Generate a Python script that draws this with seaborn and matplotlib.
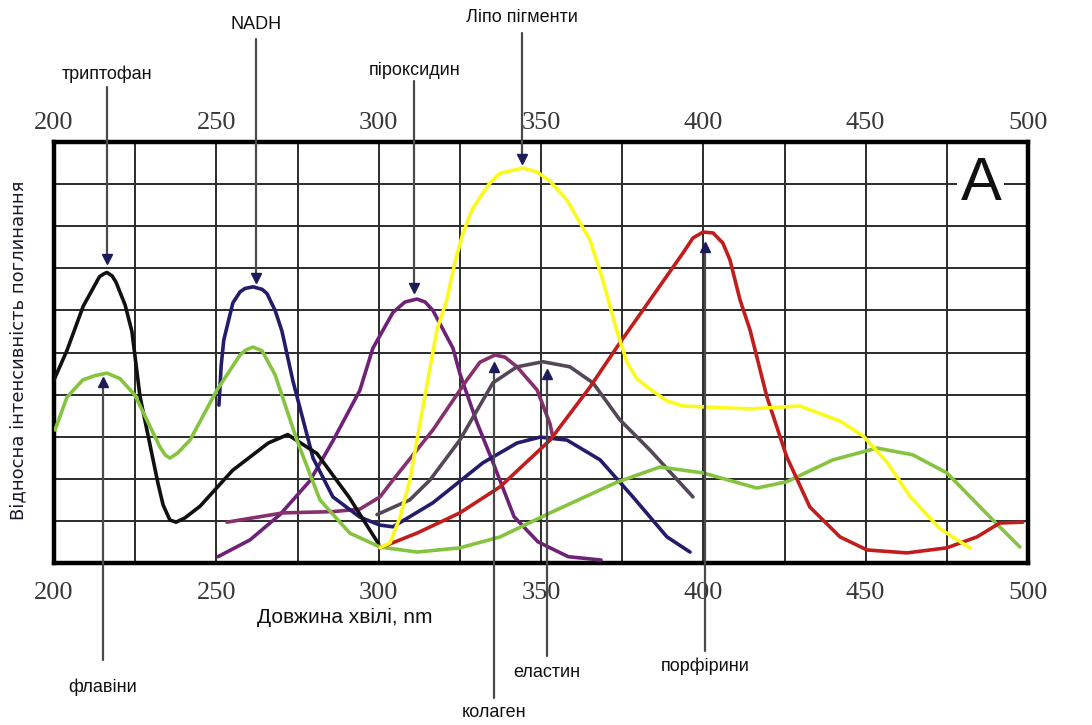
import numpy as np
import pandas as pd
import matplotlib
matplotlib.use('Agg')
import matplotlib.pyplot as plt
import seaborn as sns
from matplotlib import font_manager

# ---------------------------------------------------------------------------
# Absorption spectra (wavelength nm, relative intensity 0..10)
# ---------------------------------------------------------------------------
trypt_x = [200, 204, 209, 214, 215.4, 216.3, 217.9, 219.1, 221.9, 223.1, 224, 226.5, 232, 233.6,
           235.7, 237.6, 240.3, 245, 255, 266, 272, 281, 291, 300]
trypt_y = [4.35, 5.05, 6.1, 6.8, 6.87, 6.9, 6.82, 6.67, 6.13, 5.77, 5.5, 3.95, 1.9, 1.38,
           1.02, 0.97, 1.07, 1.35, 2.2, 2.85, 3.05, 2.6, 1.55, 0.45]

flav_x = [200.3, 204, 208.9, 212.6, 216.3, 220.3, 224.9, 232.6, 234.2, 235.7, 238.2, 241.9, 250.2,
          257.3, 259.1, 261.3, 264.1, 268.1, 274.8, 281.9, 291.1, 300.4, 311.8, 325, 337.4, 352.8,
          373.4, 386.6, 399.9, 416.5, 425.7, 439.9, 453.5, 464.5, 475, 489.2, 497.5]
flav_y = [3.16, 3.94, 4.35, 4.45, 4.51, 4.38, 3.99, 2.76, 2.57, 2.49, 2.62, 2.92, 4.11,
          4.94, 5.06, 5.13, 5.04, 4.47, 2.92, 1.5, 0.71, 0.38, 0.26, 0.36, 0.62, 1.19,
          1.92, 2.28, 2.14, 1.78, 1.93, 2.45, 2.73, 2.57, 2.14, 1.02, 0.38]

nadh_x = [250.8, 251.5, 252.3, 255.1, 257.3, 258.8, 261.3, 264.1, 265.6, 268.1, 270.2, 273.6,
          279.8, 285.9, 294.2, 300.4, 304.4, 316.7, 332.1, 342.6, 349.7, 358, 368.2, 378.3,
          388.8, 395.9]
nadh_y = [3.75, 4.7, 5.3, 6.18, 6.44, 6.52, 6.56, 6.5, 6.4, 6.0, 5.51, 4.32,
          2.49, 1.57, 1.09, 0.9, 0.86, 1.43, 2.38, 2.85, 2.99, 2.92, 2.45, 1.57,
          0.62, 0.26]

pyrid_x = [250.5, 260.4, 269.6, 278.8, 285.9, 294.2, 298.2, 304.4, 308.1, 311.8, 314.3, 316.7,
           322.9, 325, 330.2, 334.9, 341.7, 349.1, 358.4, 368.5]
pyrid_y = [0.15, 0.55, 1.15, 1.95, 2.9, 4.1, 5.1, 5.95, 6.2, 6.27, 6.2, 6.0,
           5.1, 4.5, 3.35, 2.45, 1.1, 0.5, 0.15, 0.07]

collag_x = [253.3, 270.5, 285.9, 294.2, 300.4, 304.4, 316.7, 327.2, 331.2, 335.8, 338.9, 342.6,
            348.8, 352.8, 353.6]
collag_y = [0.97, 1.19, 1.22, 1.28, 1.57, 1.97, 3.16, 4.35, 4.77, 4.94, 4.89, 4.66,
            4.11, 3.3, 3.0]

elast_x = [299.5, 309.6, 315.8, 325, 335.2, 342.6, 350.6, 358.9, 366, 374.3, 383.6, 396.8]
elast_y = [1.15, 1.5, 1.97, 2.92, 4.28, 4.66, 4.78, 4.66, 4.28, 3.4, 2.68, 1.57]

lipo_x = [300.4, 303.5, 306.6, 309.6, 311.8, 317.95, 321, 323.5, 326, 328.7, 332.1, 334.3, 337.4,
          340.4, 344.4, 348.8, 352.8, 358, 365.1, 369.1, 373.4, 376.5, 379.6, 383.6, 388.8, 393.7,
          414.4, 429.7, 442.1, 449.2, 456.5, 463.6, 472.9, 482.1]
lipo_y = [0.36, 0.48, 1.09, 1.97, 2.92, 5.54, 6.25, 7.15, 7.84, 8.38, 8.79, 9.03, 9.26,
          9.31, 9.38, 9.29, 9.07, 8.62, 7.67, 6.7, 5.5, 4.77, 4.37, 4.13, 3.85, 3.73,
          3.66, 3.73, 3.37, 3.02, 2.4, 1.59, 0.81, 0.36]

porph_x = [300.4, 311.8, 325, 337.4, 352.8, 365.1, 373.4, 383.6, 393.7, 396.8, 399.9, 403, 406,
           408.2, 411.3, 414.4, 419.6, 425.7, 432.8, 442.1, 450.4, 462.7, 475, 484.3, 491.3, 498.4]
porph_y = [0.36, 0.71, 1.19, 1.81, 2.92, 4.18, 5.13, 6.25, 7.36, 7.72, 7.86, 7.84, 7.6,
           7.2, 6.25, 5.53, 3.94, 2.52, 1.33, 0.62, 0.31, 0.24, 0.36, 0.62, 0.95, 0.97]

series = {
    'pyrid': (pyrid_x, pyrid_y, '#6e2277'),
    'collag': (collag_x, collag_y, '#86306e'),
    'elast': (elast_x, elast_y, '#544758'),
    'nadh': (nadh_x, nadh_y, '#221c6b'),
    'trypt': (trypt_x, trypt_y, '#111111'),
    'flav': (flav_x, flav_y, '#86c440'),
    'porph': (porph_x, porph_y, '#c21d1d'),
    'lipo': (lipo_x, lipo_y, '#fafa1e'),
}

# annotation labels: text, x (nm), arrow tip y, line end y, text y
top_labels = [
    ('триптофан', 216.3, 7.13, 11.3, 11.6),
    ('NADH', 262.2, 6.67, 12.45, 12.8),
    ('піроксидин', 311.0, 6.44, 11.45, 11.7),
    ('Ліпо пігменти', 344.0, 9.50, 12.6, 12.95),
]
bottom_labels = [
    ('флавіни', 215.0, 4.39, -2.3, -2.95),
    ('колаген', 335.5, 4.75, -3.2, -3.55),
    ('еластин', 351.8, 4.58, -2.2, -2.6),
    ('порфірини', 400.5, 7.60, -2.1, -2.45),
]

tick_vals = [200, 250, 300, 350, 400, 450, 500]

# ---------------------------------------------------------------------------
sns.set_style('white')
names = {f.name for f in font_manager.fontManager.ttflist}
narrow = 'Liberation Sans Narrow' if 'Liberation Sans Narrow' in names else 'Liberation Sans'
plt.rcParams['font.family'] = ['DejaVu Sans']

fig = plt.figure(figsize=(10.92, 7.25), dpi=100)
ax = fig.add_axes([54 / 1092, 1 - 563 / 725, (1028 - 54) / 1092, (563 - 142) / 725])

rows = []
for key, (xs, ys, _) in series.items():
    for x, y in zip(xs, ys):
        rows.append((key, x, y))
df = pd.DataFrame(rows, columns=['curve', 'wl', 'val'])

sns.lineplot(data=df, x='wl', y='val', hue='curve', hue_order=list(series.keys()),
             palette={k: v[2] for k, v in series.items()}, estimator=None, sort=False,
             linewidth=2.6, legend=False, ax=ax, zorder=3)

ax.set_xlim(200, 500)
ax.set_ylim(0, 10)
ax.set_xticks(tick_vals)
ax.set_xticks(np.arange(200, 501, 25), minor=True)
ax.set_yticks(np.arange(0, 11, 1))
ax.grid(True, which='both', color='#2b2b2b', linewidth=1.4, zorder=0)
ax.set_axisbelow(True)
ax.tick_params(axis='x', which='both', length=0, labelsize=19, colors='#383838', pad=14)
for lab in ax.get_xticklabels():
    lab.set_family('Liberation Serif')
ax.tick_params(axis='y', length=0, labelleft=False)
for s in ax.spines.values():
    s.set_linewidth(3.2)
    s.set_color('#000000')

top = ax.secondary_xaxis('top')
top.set_xticks(tick_vals)
top.tick_params(axis='x', length=0, labelsize=19, colors='#383838', pad=6)
for lab in top.get_xticklabels():
    lab.set_family('Liberation Serif')
top.spines['top'].set_visible(False)

ax.set_xlabel('')
ax.set_ylabel('')
fig.text(345 / 1092, 1 - 617 / 725, 'Довжина хвілі, nm', ha='center', va='center',
         fontsize=15, family=narrow, color='#111111')
fig.text(18 / 1092, 1 - 350 / 725, 'Відносна інтенсивність поглинання', ha='center',
         va='center', rotation=90, fontsize=13, color='#1a1a2a')

ax.text(485.5, 9.0, 'A', ha='center', va='center', fontsize=44, color='#111111',
        family='Liberation Sans', zorder=5,
        bbox=dict(facecolor='white', edgecolor='none', pad=2))

for text, x, tip, end, ty in top_labels:
    ax.plot([x, x], [tip + 0.15, end], color='#4a4a4a', lw=1.6, clip_on=False, zorder=6)
    ax.plot([x], [tip + 0.1], marker='v', ms=7, color='#1c1c5a', clip_on=False, zorder=7)
    ax.text(x, ty, text, ha='center', va='center', fontsize=13, family=narrow,
            color='#111111', clip_on=False)

for text, x, tip, end, ty in bottom_labels:
    ax.plot([x, x], [tip - 0.15, end], color='#4a4a4a', lw=1.6, clip_on=False, zorder=6)
    ax.plot([x], [tip - 0.1], marker='^', ms=7, color='#1c1c5a', clip_on=False, zorder=7)
    ax.text(x, ty, text, ha='center', va='center', fontsize=13, family=narrow,
            color='#111111', clip_on=False)

fig.savefig('out.png', dpi=100, facecolor='white')
